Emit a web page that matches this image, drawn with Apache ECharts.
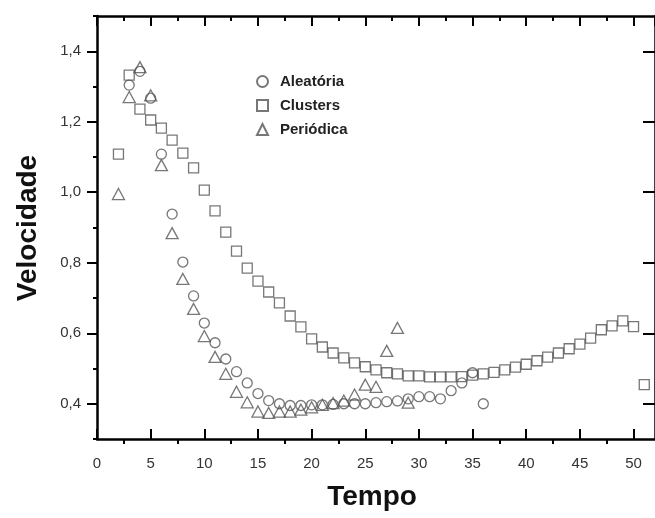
<!DOCTYPE html>
<html>
<head>
<meta charset="utf-8">
<script src="https://cdn.jsdelivr.net/npm/echarts@6/dist/echarts.min.js"></script>
<style>html,body{margin:0;padding:0;background:#fff}#c{width:655px;height:518px}</style>
</head>
<body>
<div id="c"></div>
<script>
// ---- data ----
const seriesNames = ['Aleatória', 'Clusters', 'Periódica'];
const aleatoriaTempo = [3,4,5,6,7,8,9,10,11,12,13,14,15,16,17,18,19,20,21,22,23,24,25,26,27,28,29,30,31,32,33,34,35,36];
const aleatoriaVel = [1.304,1.343,1.267,1.108,0.938,0.802,0.706,0.629,0.573,0.527,0.491,0.459,0.429,0.409,0.400,0.395,0.395,0.397,0.397,0.398,0.400,0.400,0.400,0.403,0.406,0.408,0.414,0.420,0.420,0.414,0.437,0.459,0.488,0.400];
const clustersTempo = [2,3,4,5,6,7,8,9,10,11,12,13,14,15,16,17,18,19,20,21,22,23,24,25,26,27,28,29,30,31,32,33,34,35,36,37,38,39,40,41,42,43,44,45,46,47,48,49,50,51];
const clustersVel = [1.108,1.332,1.236,1.205,1.182,1.148,1.111,1.069,1.006,0.947,0.887,0.833,0.785,0.748,0.717,0.686,0.649,0.618,0.584,0.561,0.544,0.530,0.516,0.505,0.496,0.488,0.485,0.479,0.479,0.476,0.476,0.476,0.477,0.481,0.485,0.489,0.496,0.504,0.512,0.522,0.532,0.544,0.556,0.569,0.586,0.610,0.621,0.635,0.619,0.454];
const periodicaTempo = [2,3,4,5,6,7,8,9,10,11,12,13,14,15,16,17,18,19,20,21,22,23,24,25,26,27,28,29];
const periodicaVel = [0.995,1.270,1.355,1.275,1.077,0.884,0.754,0.669,0.592,0.533,0.485,0.434,0.404,0.378,0.374,0.378,0.378,0.383,0.390,0.397,0.402,0.409,0.426,0.454,0.448,0.550,0.615,0.403];
const xMajorTicks = [0,5,10,15,20,25,30,35,40,45,50];
const xMinorTicks = [2.5,7.5,12.5,17.5,22.5,27.5,32.5,37.5,42.5,47.5];
const yTickLabels = [0.4,0.6,0.8,1.0,1.2,1.4];
const xTitle = 'Tempo';
const yTitle = 'Velocidade';

// ---- chart ----
const pairs = (xs, ys) => xs.map((x, i) => [x, ys[i]]);
const X_MIN = 0, X_MAX = 52, Y_MIN = 0.3, Y_MAX = 1.5;
const FONT = '"Liberation Sans", Arial, sans-serif';
const lineStyle = { color: '#000', width: 2.5 };
const markStyle = { color: 'rgba(255,255,255,0)', borderColor: '#555', borderWidth: 1.3 };

const chart = echarts.init(document.getElementById('c'), null, { renderer: 'canvas' });
chart.setOption({
  animation: false,
  backgroundColor: '#fff',
  grid: { left: 97, top: 16, width: 564, height: 423, containLabel: false },
  legend: {
    data: seriesNames,
    orient: 'vertical',
    left: 251, top: 69,
    itemWidth: 11, itemHeight: 11, itemGap: 9,
    textStyle: { fontFamily: FONT, fontWeight: 'bold', fontSize: 15, color: '#222', padding: [0, 0, 0, 7] }
  },
  xAxis: [
    { type: 'value', position: 'bottom', min: X_MIN, max: X_MAX, interval: 5,
      axisLine: { show: true, onZero: false, lineStyle },
      axisTick: { show: true, inside: true, length: 10, lineStyle: { color: '#000', width: 2 }, customValues: xMajorTicks },
      axisLabel: { show: true, customValues: xMajorTicks, margin: 17, fontFamily: FONT, fontSize: 15, color: '#333' },
      splitLine: { show: false } },
    { type: 'value', position: 'bottom', min: X_MIN, max: X_MAX, interval: 5,
      axisLine: { show: false },
      axisTick: { show: true, inside: false, length: 5, lineStyle: { color: '#000', width: 2 }, customValues: xMinorTicks },
      axisLabel: { show: false }, splitLine: { show: false } },
    { type: 'value', position: 'top', min: X_MIN, max: X_MAX, interval: 5,
      axisLine: { show: true, onZero: false, lineStyle },
      axisTick: { show: true, inside: true, length: 10, lineStyle: { color: '#000', width: 2 } },
      minorTick: { show: true, splitNumber: 2, length: 5, lineStyle: { color: '#000', width: 2 } },
      axisLabel: { show: false }, splitLine: { show: false } }
  ],
  yAxis: [
    { type: 'value', position: 'left', min: Y_MIN, max: Y_MAX, interval: 0.1,
      axisLine: { show: true, onZero: false, lineStyle },
      axisTick: { show: true, inside: false, length: 10, lineStyle: { color: '#000', width: 2 }, customValues: yTickLabels },
      axisLabel: { show: true, customValues: yTickLabels, margin: 16, fontFamily: FONT, fontSize: 15, color: '#333',
        formatter: v => v.toFixed(1).replace('.', ',') },
      splitLine: { show: false } },
    { type: 'value', position: 'left', min: Y_MIN, max: Y_MAX, interval: 0.1,
      axisLine: { show: false },
      axisTick: { show: true, inside: false, length: 4, lineStyle: { color: '#000', width: 2 } },
      axisLabel: { show: false }, splitLine: { show: false } },
    { type: 'value', position: 'right', min: Y_MIN, max: Y_MAX, interval: 0.1,
      axisLine: { show: true, onZero: false, lineStyle },
      axisTick: { show: true, inside: true, length: 12, lineStyle: { color: '#000', width: 2 }, customValues: yTickLabels },
      axisLabel: { show: false }, splitLine: { show: false } }
  ],
  series: [
    { name: seriesNames[0], type: 'scatter', symbol: 'circle', symbolSize: 10,
      data: pairs(aleatoriaTempo, aleatoriaVel), itemStyle: markStyle, xAxisIndex: 0, yAxisIndex: 0 },
    { name: seriesNames[1], type: 'scatter', symbol: 'rect', symbolSize: 10,
      data: pairs(clustersTempo, clustersVel), itemStyle: markStyle, xAxisIndex: 0, yAxisIndex: 0 },
    { name: seriesNames[2], type: 'scatter', symbol: 'triangle', symbolSize: [12, 11],
      data: pairs(periodicaTempo, periodicaVel), itemStyle: markStyle, xAxisIndex: 0, yAxisIndex: 0 }
  ],
  graphic: [
    { type: 'text', x: 372, y: 497, style: { text: xTitle, font: 'bold 28px ' + FONT, fill: '#111', align: 'center', verticalAlign: 'middle' } },
    { type: 'text', x: 28, y: 228, rotation: Math.PI / 2, style: { text: yTitle, font: 'bold 28px ' + FONT, fill: '#111', align: 'center', verticalAlign: 'middle' } }
  ]
});
</script>
</body>
</html>
